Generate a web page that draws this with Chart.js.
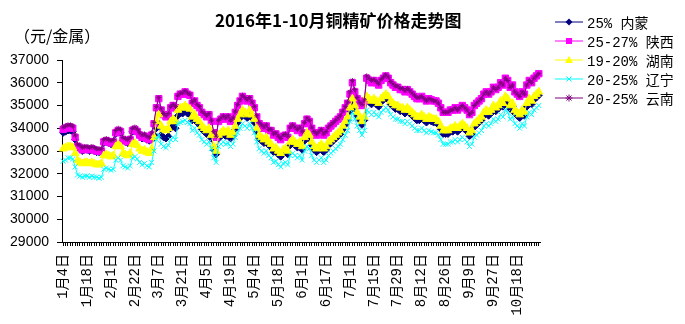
<!DOCTYPE html>
<html>
<head>
<meta charset="utf-8">
<script src="https://cdn.jsdelivr.net/npm/chart.js@4/dist/chart.umd.min.js"></script>
<style>
	body { margin: 0; background: #fff; }
	#wrap { position: relative; width: 685px; height: 324px; overflow: hidden; }
	#chart { position: absolute; left: 0; top: 0; }
	#title {
		position: absolute; left: 215px; top: 7px;
		font: bold 17px "Noto Sans CJK SC", sans-serif; color: #000; white-space: nowrap;
	}
	#unit {
		position: absolute; left: 14px; top: 23px;
		font: 16px "Noto Sans CJK SC", sans-serif; color: #000; white-space: nowrap;
	}
	#legend { position: absolute; left: 554px; top: 12px; }
	.item { position: relative; height: 19.2px; display: flex; align-items: center; }
	.item svg { width: 30px; height: 12px; }
	.item span {
		margin-left: 3px; font: 14px "Liberation Mono", "Noto Sans CJK SC", monospace;
		color: #000; white-space: nowrap;
	}
</style>
</head>
<body>
<div id="wrap">
	<canvas id="chart" width="685" height="324"></canvas>
	<div id="title">2016年1-10月铜精矿价格走势图</div>
	<div id="unit">（元/金属）</div>
	<div id="legend"></div>
</div>
<script>
// trading days, 2016-01-04 .. 2016-10-31
const holidays = ["2016-02-08", "2016-02-09", "2016-02-10", "2016-02-11", "2016-02-12",
	"2016-04-04", "2016-05-02", "2016-06-09", "2016-06-10", "2016-09-15", "2016-09-16",
	"2016-10-03", "2016-10-04", "2016-10-05", "2016-10-06", "2016-10-07"];
const categories = [];
for (let d = new Date(2016, 0, 4); d <= new Date(2016, 9, 31); d.setDate(d.getDate() + 1)) {
	if (d.getDay() === 0 || d.getDay() === 6) continue;
	const key = `2016-${String(d.getMonth() + 1).padStart(2, "0")}-${String(d.getDate()).padStart(2, "0")}`;
	if (holidays.includes(key)) continue;
	categories.push(`${d.getMonth() + 1}月${d.getDate()}日`);
}

const seriesNames = ["25% 内蒙", "25-27% 陕西", "19-20% 湖南", "20-25% 辽宁", "20-25% 云南"];

const neimeng = [
	33800,33850,33900,33900,33850,33500,33150,33100,33000,33050,
	33050,33000,33050,33000,32950,32950,32950,33350,33400,33350,
	33300,33350,33750,33850,33800,33450,33400,33350,33450,33850,
	33900,33800,33650,33550,33600,33500,33450,33500,33700,34000,
	34200,33700,33600,33550,33650,34000,34100,34000,34550,34650,
	34650,34750,34650,34600,34350,34450,34250,34150,33950,33850,
	33750,33850,33550,33050,32850,33550,33650,33750,33650,33750,
	33550,33650,33950,34250,34450,34650,34550,34450,34650,34450,
	34250,33850,33550,33450,33350,33450,33250,33150,32950,33000,
	32850,32750,32900,32950,32850,33250,33350,33250,33150,33250,
	33050,33450,33650,33550,33250,33050,32950,33050,33150,32950,
	33050,33250,33350,33450,33550,33650,33750,33950,34150,34350,
	34750,35150,34850,34550,34350,34150,34350,35250,35150,35050,
	35150,35050,34950,35150,35250,35350,35250,35050,34950,34850,
	34850,34750,34750,34650,34750,34650,34550,34450,34350,34350,
	34450,34350,34250,34350,34300,34250,34250,34150,33950,33750,
	33750,33750,33850,33850,33950,33850,33950,34050,33950,33850,
	33650,33750,34050,34150,34250,34350,34550,34650,34550,34650,
	34850,34750,34850,35050,34950,35250,35150,34850,34950,34650,
	34550,34450,34650,34550,34950,35150,35050,35250,35350,35450
];

const shaanxi = [
	33950,34000,34050,34050,34000,33600,33200,33150,33050,33100,
	33100,33050,33100,33050,33000,33000,33000,33400,33450,33400,
	33350,33400,33800,33900,33850,33500,33450,33400,33500,33900,
	33950,33850,33700,33600,33650,33550,33500,33700,34200,34900,
	35300,34800,34600,34500,34600,34900,35000,34900,35400,35500,
	35500,35600,35500,35450,35100,35200,35000,34900,34700,34600,
	34500,34600,34300,33800,33600,34300,34400,34500,34400,34500,
	34300,34400,34700,35000,35200,35400,35300,35200,35300,35100,
	34900,34500,34200,34100,34000,34100,33900,33900,33700,33750,
	33600,33500,33650,33700,33600,34000,34100,34000,33900,34000,
	33800,34200,34400,34300,34000,33800,33700,33800,33900,33700,
	33800,34000,34100,34200,34300,34400,34500,34700,34900,35100,
	35500,36000,35600,35300,35100,35000,35200,36200,36100,36000,
	36100,36000,35900,36100,36200,36300,36200,36000,35900,35800,
	35800,35700,35700,35600,35700,35600,35500,35400,35300,35300,
	35400,35300,35200,35300,35250,35200,35200,35100,34900,34700,
	34700,34700,34800,34800,34900,34800,34900,35000,34900,34800,
	34600,34700,35000,35100,35200,35300,35500,35600,35500,35600,
	35800,35700,35800,36000,35900,36200,36100,35800,35900,35600,
	35500,35400,35600,35500,35900,36100,36000,36200,36300,36400
];

const hunan = [
	33100,33150,33200,33200,33150,32900,32600,32500,32450,32500,
	32500,32450,32500,32450,32400,32400,32450,32800,32850,32800,
	32750,32800,33200,33300,33200,32900,32850,32800,32900,33300,
	33350,33250,33100,33000,33050,32950,32900,33100,33600,34300,
	34600,34100,33950,33900,34000,34300,34400,34300,34800,34900,
	34900,35000,34900,34850,34500,34600,34400,34300,34100,34000,
	33900,34000,33700,33200,33000,33700,33800,33900,33800,33900,
	33700,33800,34100,34400,34600,34800,34700,34600,34800,34600,
	34400,34000,33700,33600,33500,33600,33400,33300,33100,33150,
	33000,32900,33050,33100,33000,33400,33500,33400,33300,33400,
	33200,33600,33800,33700,33400,33200,33100,33200,33300,33100,
	33200,33400,33500,33600,33700,33800,33900,34100,34300,34500,
	34900,35300,35000,34700,34500,34300,34500,35400,35300,35200,
	35300,35200,35100,35300,35400,35500,35400,35200,35100,35000,
	35000,34900,34900,34800,34900,34800,34700,34600,34500,34500,
	34600,34500,34400,34500,34450,34400,34400,34300,34100,33900,
	33900,33900,34000,34000,34100,34000,34100,34200,34100,34000,
	33800,33900,34200,34300,34400,34500,34700,34800,34700,34800,
	35000,34900,35000,35200,35100,35400,35300,35000,35100,34800,
	34700,34600,34800,34700,35100,35300,35200,35400,35500,35600
];

const liaoning = [
	32550,32600,32700,32700,32650,32300,31950,31900,31850,31900,
	31900,31850,31900,31850,31850,31800,31850,32200,32250,32200,
	32150,32200,32600,32700,32600,32350,32300,32250,32350,32700,
	32750,32650,32500,32400,32450,32350,32300,32500,33000,33500,
	33700,33300,33200,33150,33250,33500,33600,33500,34200,34250,
	34300,34350,34250,34200,33900,34000,33800,33700,33500,33400,
	33300,33400,33100,32700,32500,33200,33300,33400,33300,33350,
	33200,33300,33600,33800,34000,34200,34100,34000,34200,34000,
	33800,33400,33100,33000,32900,33000,32800,32700,32500,32550,
	32400,32300,32450,32500,32400,32800,32900,32800,32700,32800,
	32600,33000,33200,33100,32800,32600,32500,32600,32700,32500,
	32600,32800,32900,33000,33100,33200,33300,33500,33700,33900,
	34300,34700,34400,34100,33900,33700,33900,34800,34700,34600,
	34700,34600,34500,34700,34800,34900,34800,34600,34500,34400,
	34400,34300,34300,34200,34300,34200,34100,34000,33900,33900,
	34000,33900,33800,33900,33850,33800,33800,33700,33500,33300,
	33300,33300,33400,33400,33500,33400,33500,33600,33500,33400,
	33200,33300,33600,33700,33800,33900,34100,34200,34100,34200,
	34400,34300,34400,34600,34500,34800,34700,34400,34500,34200,
	34100,34000,34200,34100,34500,34700,34600,34800,34900,35000
];

const yunnan = [
	34050,34100,34150,34150,34100,33700,33300,33250,33150,33200,
	33200,33150,33200,33150,33100,33100,33100,33500,33550,33500,
	33450,33500,33900,34000,33950,33600,33550,33500,33600,34000,
	34050,33950,33800,33700,33750,33650,33600,33800,34250,34950,
	35350,34850,34650,34550,34650,34950,35050,34950,35450,35550,
	35550,35650,35550,35500,35150,35250,35050,34950,34750,34650,
	34550,34650,34350,33850,33650,34350,34450,34550,34450,34550,
	34350,34450,34750,35050,35250,35450,35350,35250,35350,35150,
	34950,34550,34250,34150,34050,34150,33950,33950,33750,33800,
	33650,33550,33700,33750,33650,34050,34150,34050,33950,34050,
	33850,34250,34450,34350,34050,33850,33750,33850,33950,33750,
	33850,34050,34150,34250,34350,34450,34550,34750,34950,35150,
	35600,36100,35700,35350,35150,35050,35250,36300,36200,36100,
	36150,36050,35950,36150,36250,36350,36250,36050,35950,35850,
	35850,35750,35750,35650,35750,35650,35550,35450,35350,35350,
	35400,35300,35200,35300,35250,35200,35200,35100,34900,34700,
	34700,34700,34800,34800,34900,34800,34900,35000,34900,34800,
	34600,34700,35000,35100,35200,35300,35500,35600,35500,35600,
	35800,35700,35800,36000,35900,36200,36100,35800,35900,35600,
	35500,35400,35600,35500,35900,36100,36000,36200,36300,36400
];

const colors = ["#000080", "#ff00ff", "#ffff00", "#00ffff", "#800080"];
const markers = ["rectRot", "rect", "triangle", "crossRot", "star"];
const markerSizes = [3.5, 4.5, 4.5, 3.5, 2.5];
const values = [neimeng, shaanxi, hunan, liaoning, yunnan];

// Excel draws the first series at the bottom, so reverse Chart.js order
const datasets = values.map((data, i) => ({
	label: seriesNames[i],
	data: data,
	borderColor: colors[i],
	backgroundColor: colors[i],
	borderWidth: 1,
	pointStyle: markers[i],
	pointRadius: markerSizes[i],
	pointBorderWidth: 1,
	pointBorderColor: colors[i],
	pointBackgroundColor: colors[i],
	tension: 0,
	order: values.length - i,
}));

new Chart(document.getElementById("chart"), {
	type: "line",
	data: { labels: categories, datasets: datasets },
	options: {
		responsive: false,
		devicePixelRatio: 1,
		animation: false,
		layout: { padding: { left: 0, top: 60, right: 145, bottom: 0 } },
		plugins: { legend: { display: false }, tooltip: { enabled: false } },
		scales: {
			x: {
				type: "category",
				offset: true,
				border: { color: "#000", width: 1 },
				grid: { drawOnChartArea: false, drawTicks: true, tickLength: 4, color: "#000" },
				ticks: {
					autoSkip: false,
					maxRotation: 90,
					minRotation: 90,
					padding: 8,
					color: "#000",
					font: { family: "'Liberation Mono', 'Noto Sans CJK SC', monospace", size: 14 },
					callback: (v, i) => (i % 10 === 0 ? categories[i] : ""),
				},
				afterFit: (s) => { s.height = 82; },
			},
			y: {
				min: 29000,
				max: 37000,
				border: { color: "#000", width: 1 },
				grid: { drawOnChartArea: false, drawTicks: true, tickLength: 5, color: "#000" },
				ticks: {
					stepSize: 1000,
					padding: 8,
					color: "#000",
					font: { family: "'Liberation Sans', Arial, sans-serif", size: 14 },
					callback: (v) => String(v),
				},
				afterFit: (s) => { s.width = 62; },
			},
		},
	},
});

//* HTML legend: line sample with the series marker
const legend = document.getElementById("legend");
const markerSvg = (i) => {
	const c = colors[i];
	switch (markers[i]) {
		case "rectRot": return `<polygon points="15,2.5 18.5,6 15,9.5 11.5,6" fill="${c}"/>`;
		case "rect": return `<rect x="12" y="3" width="6" height="6" fill="${c}"/>`;
		case "triangle": return `<polygon points="15,2 19,9 11,9" fill="${c}"/>`;
		case "crossRot": return `<path d="M12.5 3.5L17.5 8.5M17.5 3.5L12.5 8.5" stroke="${c}" stroke-width="1"/>`;
		default: return `<path d="M12.5 3.5L17.5 8.5M17.5 3.5L12.5 8.5M15 2.5V9.5M11.5 6H18.5" stroke="${c}" stroke-width="1"/>`;
	}
};
seriesNames.forEach((name, i) => {
	legend.innerHTML += `<div class="item"><svg viewBox="0 0 30 12"><line x1="1" y1="6" x2="29" y2="6" stroke="${colors[i]}" stroke-width="1"/>${markerSvg(i)}</svg><span>${name}</span></div>`;
});
</script>
</body>
</html>
